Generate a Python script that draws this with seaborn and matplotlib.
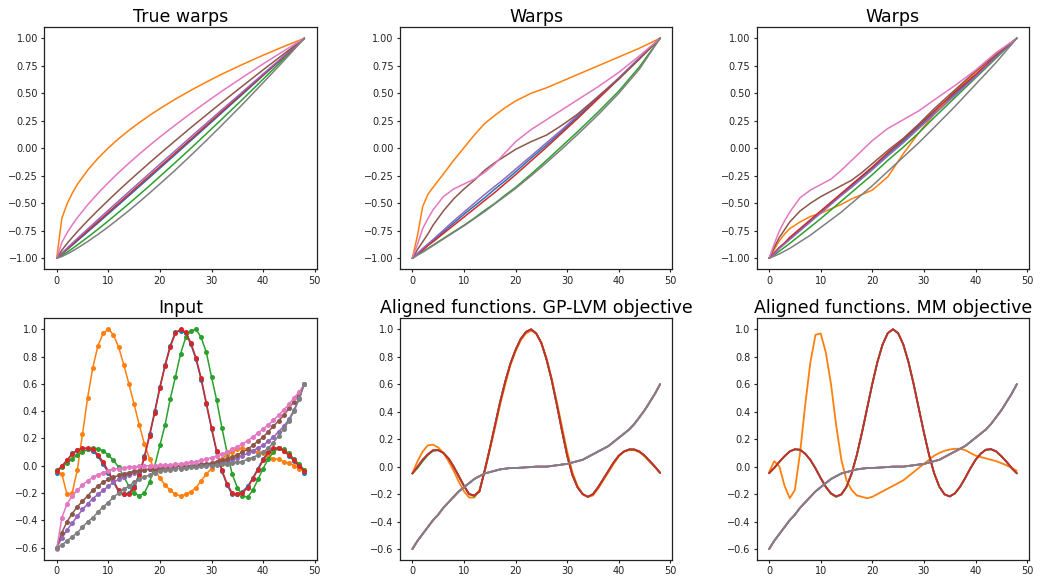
import matplotlib
matplotlib.use("Agg")
import matplotlib.pyplot as plt
import pandas as pd
import seaborn as sns

sns.set_style("ticks")
plt.rcParams["font.family"] = ["DejaVu Sans"]
plt.rcParams["axes.edgecolor"] = "#222222"
plt.rcParams["axes.linewidth"] = 0.9

# ---------------------------------------------------------------- data
series = ["s1", "s2", "s3", "s4", "s5", "s6", "s7", "s8"]
palette = sns.color_palette("tab10", 8)

# time grid of the warps
warp_x = [0, 1, 2, 3, 4, 6, 8, 10, 12, 14, 16, 18, 20, 23, 26, 29, 32, 36, 40, 44, 48]

true_blue = [-1, -0.961, -0.922, -0.882, -0.841, -0.760, -0.679, -0.596, -0.514, -0.431, -0.348, -0.265, -0.181, -0.056, 0.070, 0.196, 0.323, 0.491, 0.661, 0.830, 1]
true_orange = [-1, -0.636, -0.506, -0.410, -0.329, -0.199, -0.091, 0.003, 0.087, 0.163, 0.233, 0.299, 0.361, 0.447, 0.527, 0.602, 0.674, 0.762, 0.846, 0.925, 1]
true_green = [-1, -0.975, -0.945, -0.913, -0.879, -0.809, -0.736, -0.660, -0.582, -0.503, -0.422, -0.340, -0.256, -0.129, 0.0, 0.132, 0.265, 0.444, 0.628, 0.813, 1]
true_red = [-1, -0.958, -0.917, -0.875, -0.833, -0.75, -0.667, -0.583, -0.5, -0.417, -0.333, -0.25, -0.167, -0.042, 0.083, 0.208, 0.333, 0.5, 0.667, 0.833, 1]
true_purple = [-1, -0.953, -0.908, -0.864, -0.820, -0.734, -0.648, -0.563, -0.479, -0.395, -0.311, -0.228, -0.144, -0.021, 0.104, 0.227, 0.350, 0.512, 0.676, 0.838, 1]
true_brown = [-1, -0.926, -0.866, -0.811, -0.758, -0.658, -0.564, -0.473, -0.384, -0.298, -0.214, -0.131, -0.050, 0.070, 0.188, 0.303, 0.417, 0.566, 0.713, 0.857, 1]
true_pink = [-1, -0.856, -0.770, -0.697, -0.631, -0.514, -0.409, -0.312, -0.221, -0.135, -0.053, 0.026, 0.103, 0.212, 0.318, 0.420, 0.519, 0.644, 0.767, 0.885, 1]
true_gray = [-1, -0.984, -0.961, -0.936, -0.908, -0.848, -0.783, -0.714, -0.641, -0.566, -0.488, -0.407, -0.324, -0.197, -0.065, 0.071, 0.210, 0.399, 0.596, 0.795, 1]

gp_blue = [-1, -0.96, -0.92, -0.88, -0.84, -0.76, -0.68, -0.60, -0.525, -0.45, -0.37, -0.295, -0.215, -0.09, 0.03, 0.155, 0.285, 0.46, 0.635, 0.82, 1]
gp_orange = [-1, -0.79, -0.53, -0.42, -0.355, -0.235, -0.11, 0.005, 0.12, 0.225, 0.30, 0.37, 0.43, 0.50, 0.55, 0.61, 0.67, 0.75, 0.83, 0.91, 1]
gp_green = [-1, -0.97, -0.94, -0.91, -0.88, -0.82, -0.76, -0.70, -0.635, -0.565, -0.50, -0.425, -0.355, -0.235, -0.11, 0.02, 0.15, 0.33, 0.52, 0.74, 1]
gp_red = [-1, -0.96, -0.925, -0.885, -0.85, -0.775, -0.70, -0.625, -0.55, -0.475, -0.40, -0.32, -0.24, -0.115, 0.01, 0.14, 0.27, 0.45, 0.63, 0.82, 1]
gp_purple = [-1, -0.955, -0.91, -0.87, -0.83, -0.745, -0.66, -0.58, -0.50, -0.42, -0.345, -0.27, -0.19, -0.07, 0.05, 0.17, 0.30, 0.47, 0.64, 0.82, 1]
gp_brown = [-1, -0.92, -0.85, -0.78, -0.70, -0.57, -0.46, -0.37, -0.29, -0.20, -0.13, -0.07, -0.01, 0.06, 0.12, 0.21, 0.31, 0.47, 0.63, 0.81, 1]
gp_pink = [-1, -0.87, -0.73, -0.64, -0.56, -0.44, -0.37, -0.325, -0.28, -0.22, -0.14, -0.04, 0.06, 0.17, 0.26, 0.35, 0.44, 0.56, 0.69, 0.84, 1]
gp_gray = [-1, -0.97, -0.945, -0.915, -0.885, -0.825, -0.765, -0.705, -0.64, -0.575, -0.505, -0.435, -0.365, -0.25, -0.13, -0.005, 0.125, 0.305, 0.50, 0.72, 1]

mm_blue = [-1, -0.955, -0.905, -0.865, -0.82, -0.74, -0.66, -0.58, -0.50, -0.42, -0.34, -0.26, -0.18, -0.055, 0.065, 0.195, 0.325, 0.495, 0.66, 0.835, 1]
mm_orange = [-1, -0.92, -0.84, -0.78, -0.73, -0.67, -0.62, -0.59, -0.55, -0.51, -0.46, -0.42, -0.38, -0.26, -0.05, 0.14, 0.31, 0.52, 0.69, 0.86, 1]
mm_green = [-1, -0.97, -0.935, -0.90, -0.865, -0.79, -0.715, -0.64, -0.56, -0.48, -0.40, -0.32, -0.24, -0.11, 0.01, 0.14, 0.28, 0.46, 0.64, 0.82, 1]
mm_red = [-1, -0.95, -0.90, -0.86, -0.81, -0.73, -0.65, -0.57, -0.49, -0.41, -0.33, -0.25, -0.17, -0.04, 0.08, 0.21, 0.34, 0.51, 0.67, 0.84, 1]
mm_purple = [-1, -0.96, -0.91, -0.87, -0.83, -0.75, -0.67, -0.59, -0.51, -0.43, -0.355, -0.275, -0.195, -0.07, 0.05, 0.18, 0.31, 0.48, 0.65, 0.83, 1]
mm_brown = [-1, -0.90, -0.81, -0.74, -0.67, -0.57, -0.50, -0.44, -0.39, -0.34, -0.29, -0.22, -0.14, -0.02, 0.09, 0.22, 0.36, 0.53, 0.70, 0.85, 1]
mm_pink = [-1, -0.87, -0.75, -0.66, -0.58, -0.45, -0.38, -0.33, -0.28, -0.20, -0.11, -0.02, 0.07, 0.18, 0.26, 0.34, 0.44, 0.57, 0.71, 0.87, 1]
mm_gray = [-1, -0.98, -0.96, -0.935, -0.91, -0.85, -0.79, -0.72, -0.65, -0.58, -0.50, -0.42, -0.34, -0.21, -0.08, 0.05, 0.19, 0.38, 0.58, 0.78, 1]

# sample grid of the functions
t = list(range(49))

in_blue = [-0.05, -0.005, 0.04, 0.09, 0.115, 0.125, 0.125, 0.11, 0.07, 0.01, -0.05, -0.12, -0.19, -0.21, -0.2,
           -0.15, -0.06, 0.07, 0.23, 0.40, 0.58, 0.74, 0.88, 0.98, 0.99, 0.97, 0.89, 0.78, 0.63, 0.45,
           0.27, 0.10, -0.04, -0.14, -0.21, -0.21, -0.19, -0.15, -0.09, -0.02, 0.05, 0.10, 0.125, 0.13, 0.11,
           0.075, 0.035, -0.005, -0.05]
in_orange = [-0.04, -0.06, -0.21, -0.20, -0.03, 0.23, 0.50, 0.72, 0.88, 0.97, 1.0, 0.96, 0.87, 0.74, 0.60,
             0.45, 0.30, 0.16, 0.05, -0.03, -0.09, -0.14, -0.18, -0.21, -0.22, -0.21, -0.19, -0.16, -0.11, -0.06,
             -0.02, 0.02, 0.05, 0.08, 0.10, 0.12, 0.13, 0.12, 0.11, 0.10, 0.09, 0.07, 0.05, 0.05, 0.03,
             0.02, 0.0, -0.02, -0.03]
in_green = [-0.03, -0.01, 0.02, 0.05, 0.08, 0.10, 0.12, 0.13, 0.125, 0.11, 0.08, 0.04, -0.01, -0.08, -0.15,
            -0.20, -0.22, -0.20, -0.12, 0.0, 0.15, 0.30, 0.49, 0.65, 0.82, 0.94, 0.99, 1.0, 0.94, 0.83,
            0.65, 0.48, 0.28, 0.10, -0.06, -0.16, -0.22, -0.23, -0.18, -0.10, -0.02, 0.05, 0.10, 0.13, 0.12,
            0.09, 0.05, 0.01, -0.03]
in_red = [-0.04, 0.0, 0.04, 0.085, 0.115, 0.13, 0.13, 0.12, 0.08, 0.03, -0.04, -0.11, -0.18, -0.21, -0.21,
          -0.16, -0.07, 0.06, 0.22, 0.39, 0.57, 0.73, 0.87, 0.97, 1.0, 0.98, 0.90, 0.79, 0.64, 0.46,
          0.28, 0.11, -0.03, -0.13, -0.20, -0.21, -0.20, -0.16, -0.095, -0.03, 0.04, 0.10, 0.13, 0.13, 0.11,
          0.08, 0.04, 0.0, -0.04]
in_purple = [-0.60, -0.53, -0.47, -0.42, -0.37, -0.32, -0.28, -0.24, -0.21, -0.18, -0.15, -0.12, -0.10, -0.08, -0.065,
             -0.05, -0.04, -0.03, -0.025, -0.02, -0.015, -0.01, -0.01, -0.005, -0.005, 0.0, 0.0, 0.0, 0.005, 0.005,
             0.01, 0.02, 0.025, 0.035, 0.045, 0.06, 0.075, 0.09, 0.11, 0.13, 0.15, 0.18, 0.21, 0.25, 0.29,
             0.34, 0.41, 0.50, 0.60]
in_brown = [-0.60, -0.49, -0.41, -0.35, -0.30, -0.26, -0.22, -0.18, -0.15, -0.12, -0.10, -0.085, -0.07, -0.06, -0.05,
            -0.04, -0.035, -0.03, -0.025, -0.02, -0.015, -0.01, -0.01, -0.005, 0.0, 0.0, 0.0, 0.005, 0.01, 0.015,
            0.02, 0.03, 0.04, 0.05, 0.065, 0.08, 0.10, 0.12, 0.15, 0.18, 0.21, 0.25, 0.29, 0.33, 0.37,
            0.42, 0.47, 0.53, 0.60]
in_pink = [-0.61, -0.38, -0.28, -0.22, -0.18, -0.14, -0.11, -0.085, -0.065, -0.05, -0.035, -0.025, -0.02, -0.015, -0.01,
           -0.008, -0.005, 0.0, 0.0, 0.0, 0.003, 0.005, 0.008, 0.01, 0.015, 0.02, 0.025, 0.03, 0.04, 0.05,
           0.06, 0.07, 0.085, 0.10, 0.12, 0.14, 0.16, 0.185, 0.21, 0.24, 0.27, 0.30, 0.335, 0.37, 0.41,
           0.45, 0.50, 0.54, 0.60]
in_gray = [-0.60, -0.58, -0.55, -0.52, -0.49, -0.45, -0.41, -0.38, -0.34, -0.30, -0.27, -0.23, -0.20, -0.17, -0.15,
           -0.12, -0.10, -0.08, -0.07, -0.05, -0.04, -0.03, -0.03, -0.02, -0.02, -0.015, -0.01, -0.01, -0.005, 0.0,
           0.0, 0.005, 0.01, 0.015, 0.02, 0.025, 0.03, 0.05, 0.06, 0.08, 0.10, 0.13, 0.17, 0.22, 0.27,
           0.33, 0.40, 0.49, 0.60]

gp_f_red = [-0.05, 0.0, 0.05, 0.09, 0.12, 0.12, 0.10, 0.06, 0.0, -0.07, -0.14, -0.20, -0.21, -0.18, -0.03,
            0.13, 0.30, 0.47, 0.62, 0.75, 0.85, 0.93, 0.98, 1.0, 0.97, 0.90, 0.78, 0.63, 0.45, 0.26,
            0.08, -0.06, -0.15, -0.20, -0.22, -0.20, -0.15, -0.09, -0.03, 0.03, 0.08, 0.11, 0.125, 0.125, 0.11,
            0.08, 0.04, 0.0, -0.045]
gp_f_blue = [-0.05, 0.0, 0.05, 0.09, 0.118, 0.12, 0.10, 0.06, 0.0, -0.07, -0.14, -0.20, -0.21, -0.18, -0.03,
             0.13, 0.30, 0.47, 0.62, 0.75, 0.85, 0.93, 0.98, 1.0, 0.97, 0.90, 0.78, 0.63, 0.45, 0.26,
             0.08, -0.06, -0.15, -0.20, -0.22, -0.20, -0.15, -0.09, -0.03, 0.03, 0.08, 0.11, 0.125, 0.125, 0.11,
             0.08, 0.04, 0.0, -0.045]
gp_f_green = [-0.05, -0.01, 0.04, 0.085, 0.115, 0.12, 0.10, 0.06, 0.0, -0.07, -0.14, -0.20, -0.215, -0.18, -0.03,
              0.13, 0.30, 0.47, 0.62, 0.75, 0.85, 0.93, 0.98, 1.0, 0.97, 0.90, 0.78, 0.63, 0.45, 0.26,
              0.08, -0.06, -0.15, -0.20, -0.22, -0.20, -0.15, -0.09, -0.03, 0.03, 0.08, 0.11, 0.125, 0.125, 0.11,
              0.08, 0.04, 0.0, -0.045]
gp_f_orange = [-0.05, 0.04, 0.11, 0.155, 0.16, 0.14, 0.10, 0.04, -0.03, -0.11, -0.18, -0.225, -0.225, -0.17, -0.04,
               0.12, 0.28, 0.45, 0.60, 0.74, 0.84, 0.92, 0.97, 0.99, 0.97, 0.90, 0.79, 0.64, 0.47, 0.29,
               0.11, -0.04, -0.14, -0.20, -0.22, -0.21, -0.16, -0.10, -0.04, 0.02, 0.075, 0.11, 0.12, 0.12, 0.105,
               0.075, 0.035, -0.005, -0.045]

mm_f_red = [-0.048, -0.009, 0.036, 0.076, 0.111, 0.127, 0.123, 0.094, 0.049, -0.013, -0.083, -0.147, -0.195, -0.217, -0.202,
            -0.147, -0.050, 0.085, 0.248, 0.425, 0.603, 0.763, 0.890, 0.972, 1.0, 0.972, 0.890, 0.763, 0.603, 0.425,
            0.248, 0.085, -0.050, -0.147, -0.202, -0.217, -0.195, -0.147, -0.083, -0.013, 0.049, 0.094, 0.123, 0.127, 0.111,
            0.076, 0.036, -0.009, -0.048]
mm_f_blue = [-0.048, -0.008, 0.036, 0.076, 0.111, 0.126, 0.122, 0.094, 0.049, -0.013, -0.083, -0.147, -0.195, -0.217, -0.202,
             -0.147, -0.050, 0.085, 0.248, 0.425, 0.603, 0.763, 0.890, 0.972, 1.0, 0.972, 0.890, 0.763, 0.603, 0.425,
             0.248, 0.085, -0.050, -0.147, -0.202, -0.217, -0.195, -0.147, -0.083, -0.013, 0.049, 0.094, 0.123, 0.127, 0.111,
             0.076, 0.036, -0.009, -0.048]
mm_f_green = [-0.048, -0.010, 0.034, 0.075, 0.110, 0.126, 0.123, 0.094, 0.049, -0.013, -0.085, -0.150, -0.198, -0.220, -0.204,
              -0.147, -0.050, 0.085, 0.248, 0.425, 0.603, 0.763, 0.890, 0.972, 1.0, 0.972, 0.890, 0.763, 0.603, 0.425,
              0.248, 0.085, -0.050, -0.147, -0.202, -0.217, -0.195, -0.147, -0.083, -0.013, 0.049, 0.094, 0.123, 0.127, 0.111,
              0.076, 0.036, -0.012, -0.050]
mm_f_orange = [-0.04, 0.04, 0.0, -0.14, -0.23, -0.17, 0.10, 0.45, 0.76, 0.96, 0.97, 0.83, 0.60, 0.30, 0.05,
               -0.10, -0.17, -0.21, -0.22, -0.23, -0.22, -0.20, -0.18, -0.16, -0.14, -0.12, -0.10, -0.07, -0.04, -0.01,
               0.02, 0.05, 0.08, 0.10, 0.115, 0.125, 0.13, 0.13, 0.12, 0.10, 0.08, 0.07, 0.06, 0.05, 0.04,
               0.025, 0.01, -0.01, -0.03]

g_aligned = [-0.60, -0.54, -0.49, -0.44, -0.39, -0.35, -0.30, -0.26, -0.22, -0.18, -0.15, -0.12, -0.09, -0.07, -0.05,
             -0.04, -0.03, -0.02, -0.015, -0.01, -0.01, -0.008, -0.005, -0.003, 0.0, 0.0, 0.0, 0.005, 0.01, 0.015,
             0.02, 0.03, 0.04, 0.05, 0.07, 0.09, 0.11, 0.13, 0.15, 0.18, 0.21, 0.24, 0.27, 0.31, 0.36,
             0.41, 0.47, 0.53, 0.60]


def draw_panel(ax, x, curves, title, **kws):
    frames = [pd.DataFrame({"x": x, "y": ys, "series": name})
              for name, ys in zip(series, curves)]
    df = pd.concat(frames, ignore_index=True)
    sns.lineplot(data=df, x="x", y="y", hue="series", hue_order=series,
                 palette=palette, estimator=None, legend=False, ax=ax, **kws)
    ax.set_title(title, fontsize=12.5, pad=4, color="black")
    ax.set_xlabel("")
    ax.set_ylabel("")
    ax.set_xticks([0, 10, 20, 30, 40, 50])
    ax.tick_params(labelsize=7, length=2.5, width=0.8, pad=2, colors="#222222")


fig = plt.figure(figsize=(10.4, 5.78), dpi=100)
lefts = [0.0426, 0.3846, 0.7276]
w = 0.262
top_b, top_h = 0.5341, 0.4187
bot_b, bot_h = 0.0311, 0.4182
axes_top = [fig.add_axes([l, top_b, w, top_h]) for l in lefts]
axes_bot = [fig.add_axes([l, bot_b, w, bot_h]) for l in lefts]

draw_panel(axes_top[0], warp_x,
           [true_blue, true_orange, true_green, true_red, true_purple, true_brown, true_pink, true_gray],
           "True warps", linewidth=1.1)
draw_panel(axes_top[1], warp_x,
           [gp_blue, gp_orange, gp_green, gp_red, gp_purple, gp_brown, gp_pink, gp_gray],
           "Warps", linewidth=1.1)
draw_panel(axes_top[2], warp_x,
           [mm_blue, mm_orange, mm_green, mm_red, mm_purple, mm_brown, mm_pink, mm_gray],
           "Warps", linewidth=1.1)

draw_panel(axes_bot[0], t,
           [in_blue, in_orange, in_green, in_red, in_purple, in_brown, in_pink, in_gray],
           "Input", linewidth=1.1, marker="o", markersize=3.6, markeredgewidth=0)
draw_panel(axes_bot[1], t,
           [gp_f_blue, gp_f_orange, gp_f_green, gp_f_red, g_aligned, g_aligned, g_aligned, g_aligned],
           "Aligned functions. GP-LVM objective", linewidth=1.3)
draw_panel(axes_bot[2], t,
           [mm_f_blue, mm_f_orange, mm_f_green, mm_f_red, g_aligned, g_aligned, g_aligned, g_aligned],
           "Aligned functions. MM objective", linewidth=1.3)

for ax in axes_top:
    ax.set_yticks([-1.0, -0.75, -0.5, -0.25, 0.0, 0.25, 0.5, 0.75, 1.0])
for ax in axes_bot:
    ax.set_yticks([-0.6, -0.4, -0.2, 0.0, 0.2, 0.4, 0.6, 0.8, 1.0])

fig.savefig("out.png", dpi=100)
